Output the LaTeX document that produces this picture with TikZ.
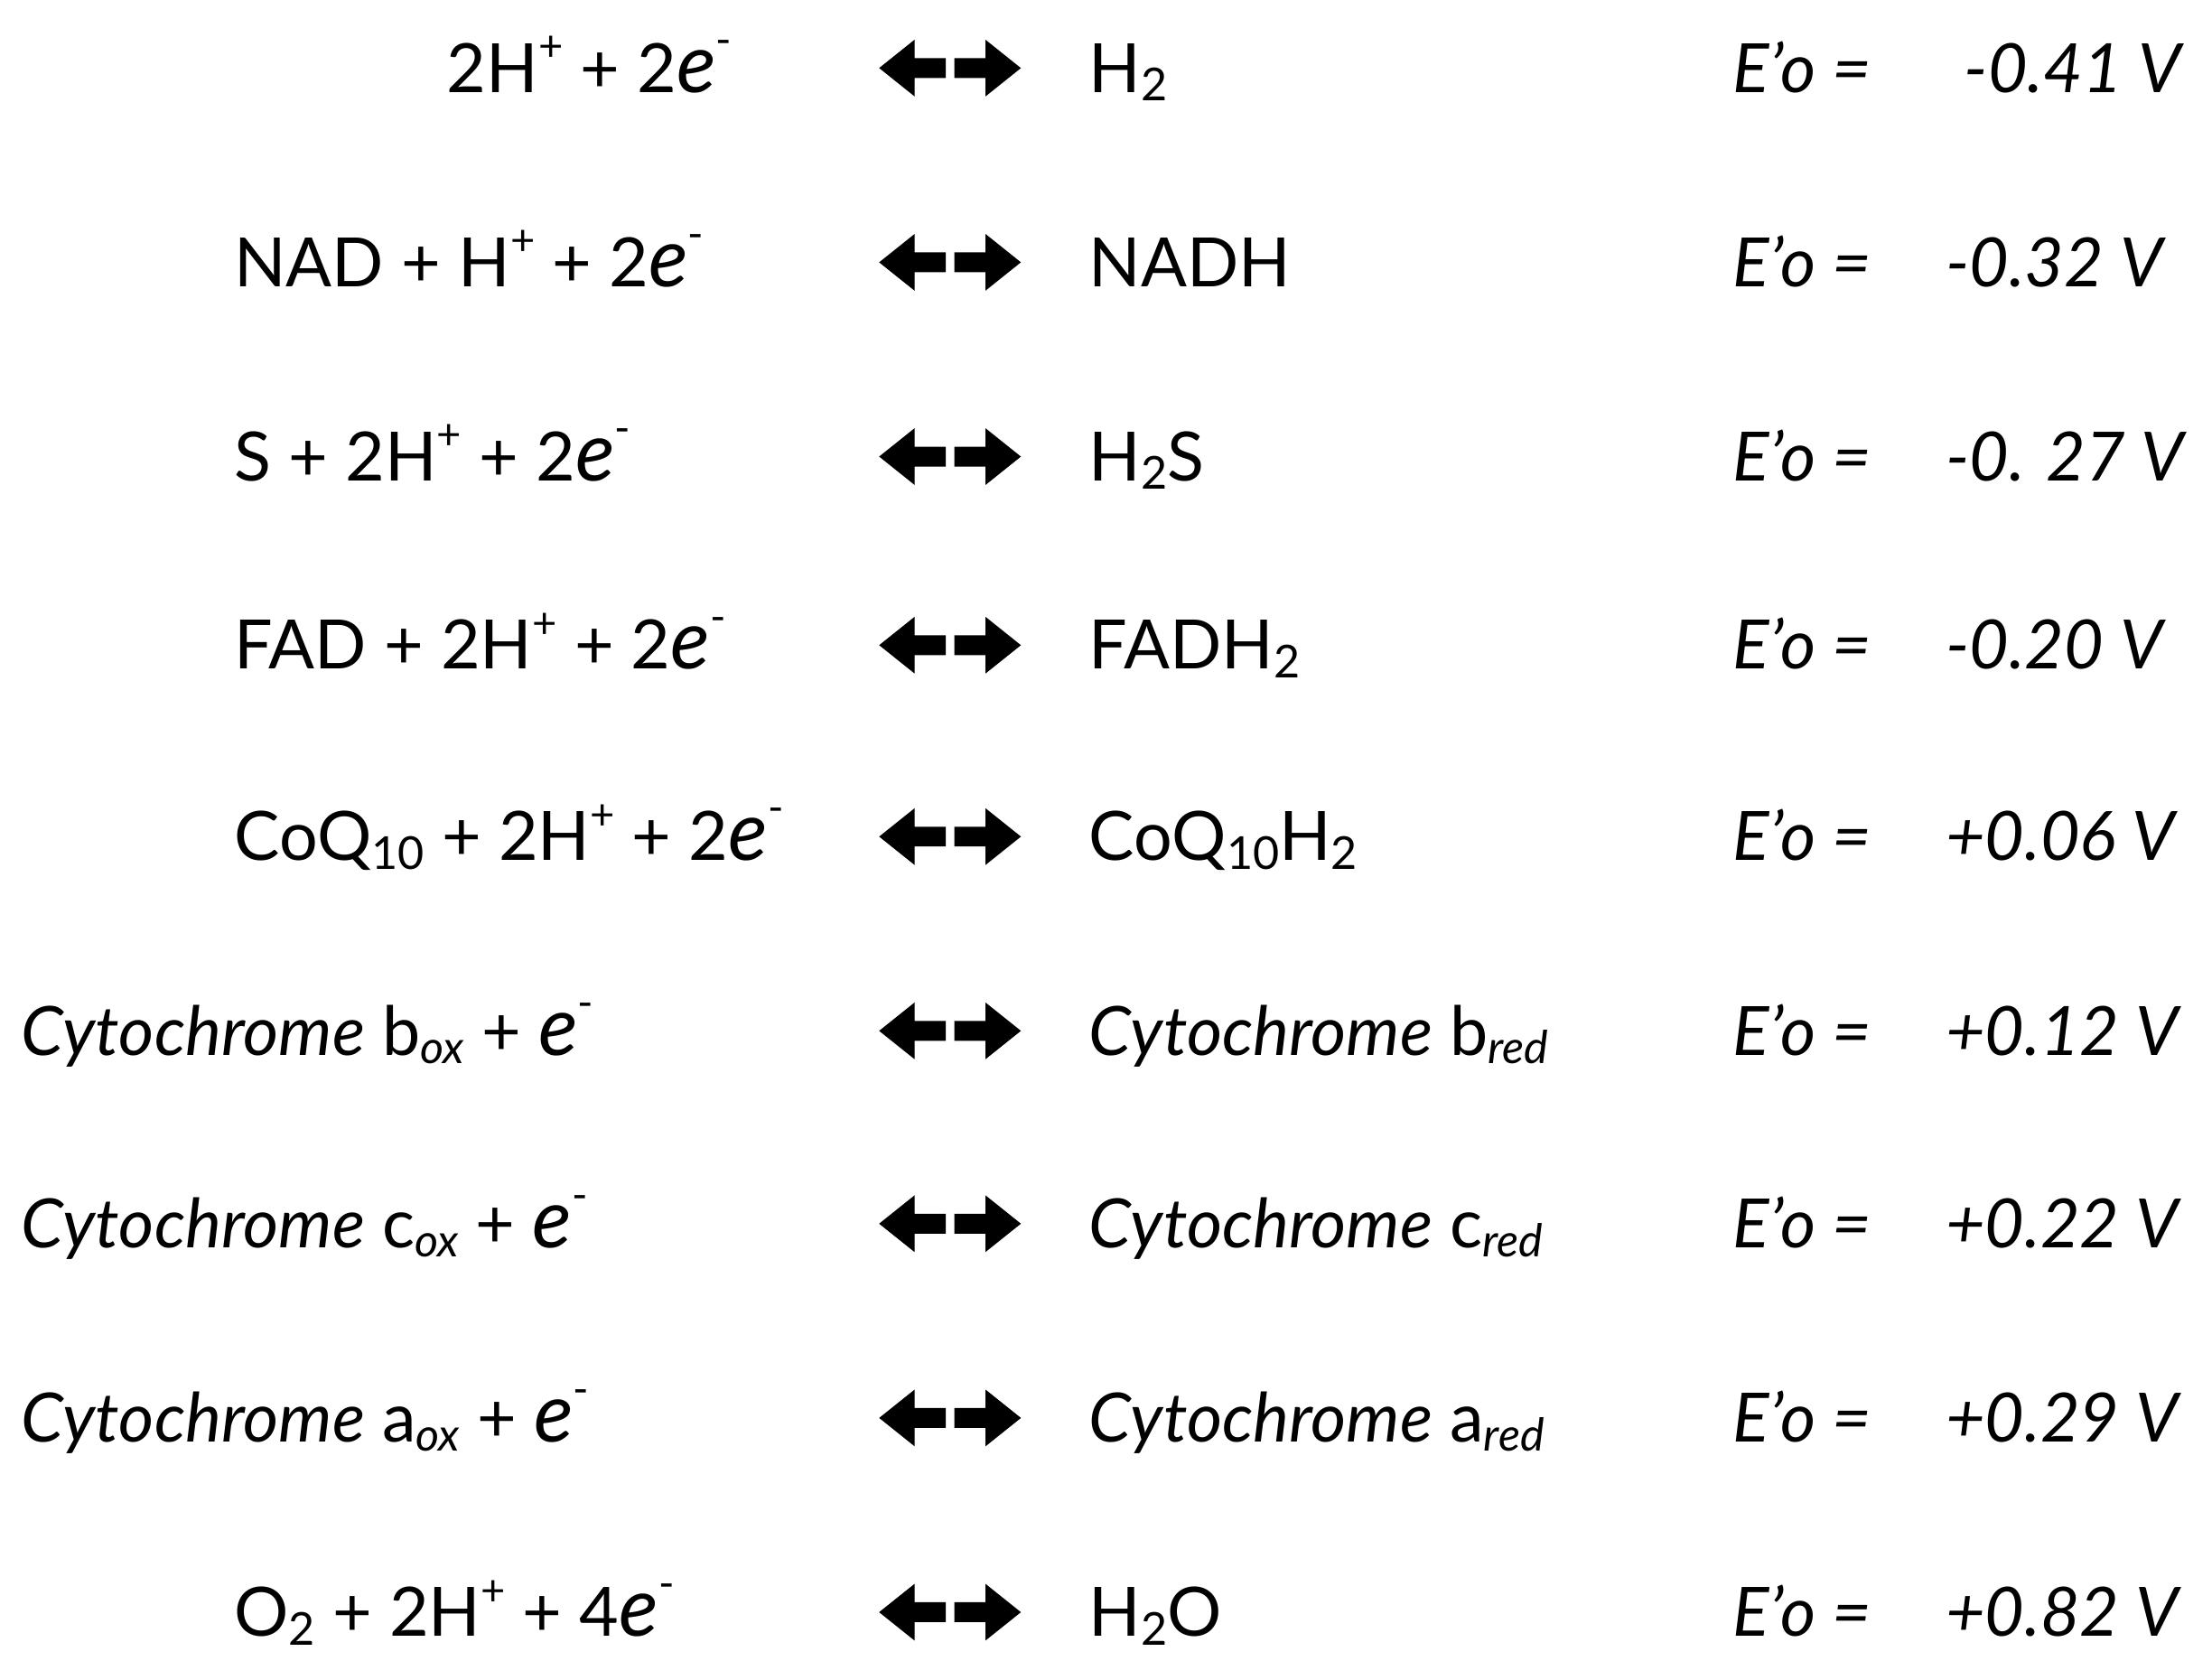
\documentclass[tikz,border=0pt]{standalone}
\usepackage{fontspec}
\setmainfont{Lato}
\newcommand{\el}{{\fontsize{58}{60}\selectfont\textit{e}}\raisebox{1.1ex}{\fontsize{30}{36}\selectfont -}}
\newcommand{\sbs}[1]{\raisebox{-0.25ex}{\fontsize{32}{36}\selectfont #1}}
\newcommand{\sps}[1]{\raisebox{0.9ex}{\fontsize{30}{36}\selectfont #1}}
\begin{document}
\begin{tikzpicture}[x=1pt,y=1pt,
  txt/.style={font=\fontsize{48}{56}\selectfont, inner sep=0pt, anchor=base west},
  arr/.style={fill=black}]
\useasboundingbox (0,0) rectangle (1560,-1171);
\def\rows{48/1,185/2,322/3,455/4,590/5,727/6,863/7,1000/8,1137/9}
\foreach \y/\i in \rows {
  \begin{scope}[shift={(0,-\y)}]
  \fill (620,0) -- (645,20) -- (645,7) -- (667,7) -- (667,-7) -- (645,-7) -- (645,-20) -- cycle;
  \fill (720,0) -- (695,20) -- (695,7) -- (673,7) -- (673,-7) -- (695,-7) -- (695,-20) -- cycle;
  \node[txt] (eo\i) at (1222,-17) {\textit{E’o =}};
  \end{scope}
}
% left
\node[txt] (l1) at (315,-65) {2H\sps{+} + 2\el};
\node[txt] (l2) at (165,-202) {NAD + H\sps{+} + 2\el};
\node[txt] (l3) at (165,-339) {S + 2H\sps{+} + 2\el};
\node[txt] (l4) at (165,-472) {FAD + 2H\sps{+} + 2\el};
\node[txt] (l5) at (165,-607) {CoQ\sbs{10} + 2H\sps{+} + 2\el};
\node[txt] (l6) at (15,-744) {\textit{Cytochrome} b\sbs{\textit{ox}} + \el};
\node[txt] (l7) at (15,-880) {\textit{Cytochrome} c\sbs{\textit{ox}} + \el};
\node[txt] (l8) at (15,-1017) {\textit{Cytochrome} a\sbs{\textit{ox}} + \el};
\node[txt] (l9) at (165,-1154) {O\sbs{2} + 2H\sps{+} + 4\el};
% middle
\node[txt] (m1) at (768,-65) {H\sbs{2}};
\node[txt] (m2) at (768,-202) {NADH};
\node[txt] (m3) at (768,-339) {H\sbs{2}S};
\node[txt] (m4) at (768,-472) {FADH\sbs{2}};
\node[txt] (m5) at (768,-607) {CoQ\sbs{10}H\sbs{2}};
\node[txt] (m6) at (768,-744) {\textit{Cytochrome} b\sbs{\textit{red}}};
\node[txt] (m7) at (768,-880) {\textit{Cytochrome} c\sbs{\textit{red}}};
\node[txt] (m8) at (768,-1017) {\textit{Cytochrome} a\sbs{\textit{red}}};
\node[txt] (m9) at (768,-1154) {H\sbs{2}O};
% values
\node[txt] (v1) at (1385,-65) {\textit{-0.41 V}};
\node[txt] (v2) at (1372,-202) {\textit{-0.32 V}};
\node[txt] (v3) at (1372,-339) {\textit{-0. 27 V}};
\node[txt] (v4) at (1372,-472) {\textit{-0.20 V}};
\node[txt] (v5) at (1372,-607) {\textit{+0.06 V}};
\node[txt] (v6) at (1372,-744) {\textit{+0.12 V}};
\node[txt] (v7) at (1372,-880) {\textit{+0.22 V}};
\node[txt] (v8) at (1372,-1017) {\textit{+0.29 V}};
\node[txt] (v9) at (1372,-1154) {\textit{+0.82 V}};
\end{tikzpicture}
\end{document}
